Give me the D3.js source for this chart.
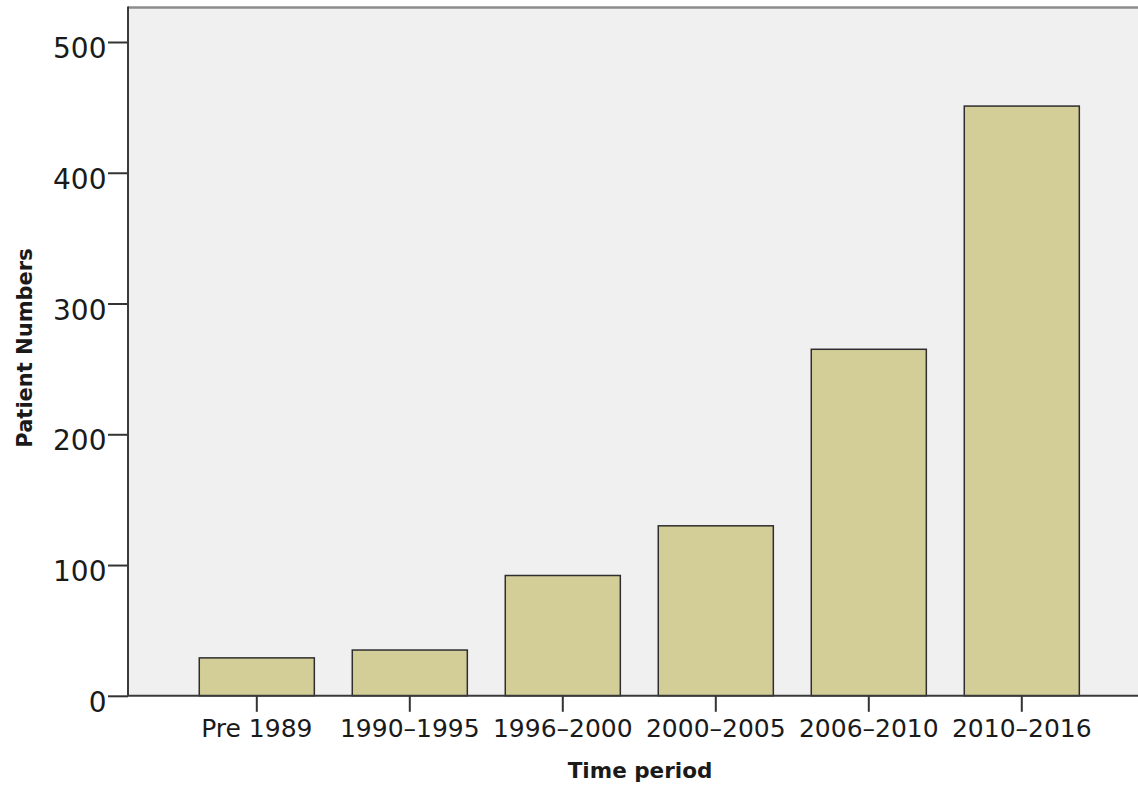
<!DOCTYPE html>
<html>
<head>
<meta charset="utf-8">
<script src="https://cdn.jsdelivr.net/npm/d3@7"></script>
<style>
  html, body { margin: 0; padding: 0; background: #ffffff; }
  svg { display: block; }
</style>
</head>
<body>
<svg id="chart" width="1138" height="785"></svg>
<script>
const categories = ["Pre 1989", "1990\u20131995", "1996\u20132000", "2000\u20132005", "2006\u20132010", "2010\u20132016"];
const patientNumbers = [29, 35, 92, 130, 265, 451];
const yTickValues = [0, 100, 200, 300, 400, 500];
const xTitle = "Time period";
const yTitle = "Patient Numbers";

const W = 1138, H = 785;
const plotLeft = 128, plotRight = 1138, plotTop = 8, plotBottom = 695.8;

const svg = d3.select("#chart");

const y = d3.scaleLinear().domain([0, 526]).range([plotBottom, plotTop]);
const x = d3.scaleBand().domain(categories)
  .range([180.3, 1098.3]).paddingInner(0.248).paddingOuter(0.124);

// plot background
svg.append("rect")
  .attr("x", plotLeft).attr("y", plotTop)
  .attr("width", plotRight - plotLeft).attr("height", plotBottom - plotTop)
  .attr("fill", "#f0f0f0");

// top frame line
svg.append("line")
  .attr("x1", plotLeft).attr("x2", plotRight)
  .attr("y1", plotTop - 0.5).attr("y2", plotTop - 0.5)
  .attr("stroke", "#8c8c8c").attr("stroke-width", 2.5);

// bars
svg.append("g").selectAll("rect")
  .data(categories)
  .join("rect")
  .attr("x", d => x(d))
  .attr("y", (d, i) => y(patientNumbers[i]))
  .attr("width", x.bandwidth())
  .attr("height", (d, i) => y(0) - y(patientNumbers[i]))
  .attr("fill", "#d3ce98")
  .attr("stroke", "#2e2e2e")
  .attr("stroke-width", 1.5);

// y axis
const yAxis = d3.axisLeft(y).tickValues(yTickValues).tickSize(20).tickPadding(1.5).tickFormat(d3.format("d"));
const gy = svg.append("g").attr("transform", `translate(${plotLeft},0)`).call(yAxis);
gy.select(".domain").remove();
gy.selectAll(".tick line").attr("stroke", "#333").attr("stroke-width", 2);
gy.selectAll(".tick text")
  .attr("font-family", "DejaVu Sans, sans-serif")
  .attr("font-size", 28)
  .attr("fill", "#1a1a1a")
  .attr("dy", 0)
  .attr("y", 15.5);
svg.append("line")
  .attr("x1", plotLeft).attr("x2", plotLeft)
  .attr("y1", plotTop - 1.5).attr("y2", plotBottom)
  .attr("stroke", "#3a3a3a").attr("stroke-width", 2);

// x axis
const xAxis = d3.axisBottom(x).tickSize(16).tickPadding(4);
const gx = svg.append("g").attr("transform", `translate(0,${plotBottom})`).call(xAxis);
gx.select(".domain").remove();
gx.selectAll(".tick line").attr("stroke", "#333").attr("stroke-width", 2);
gx.selectAll(".tick text")
  .attr("font-family", "DejaVu Sans, sans-serif")
  .attr("font-size", 25)
  .attr("fill", "#1a1a1a")
  .attr("dy", 0)
  .attr("y", 41);
svg.append("line")
  .attr("x1", plotLeft).attr("x2", plotRight)
  .attr("y1", plotBottom).attr("y2", plotBottom)
  .attr("stroke", "#3a3a3a").attr("stroke-width", 2);

// axis titles
svg.append("text")
  .attr("x", 640).attr("y", 778)
  .attr("text-anchor", "middle")
  .attr("font-family", "DejaVu Sans, sans-serif")
  .attr("font-weight", "bold")
  .attr("font-size", 21.5)
  .attr("fill", "#1a1a1a")
  .text(xTitle);

svg.append("text")
  .attr("transform", "translate(32,348) rotate(-90)")
  .attr("text-anchor", "middle")
  .attr("font-family", "DejaVu Sans, sans-serif")
  .attr("font-weight", "bold")
  .attr("font-size", 21)
  .attr("fill", "#1a1a1a")
  .text(yTitle);
</script>
</body>
</html>
